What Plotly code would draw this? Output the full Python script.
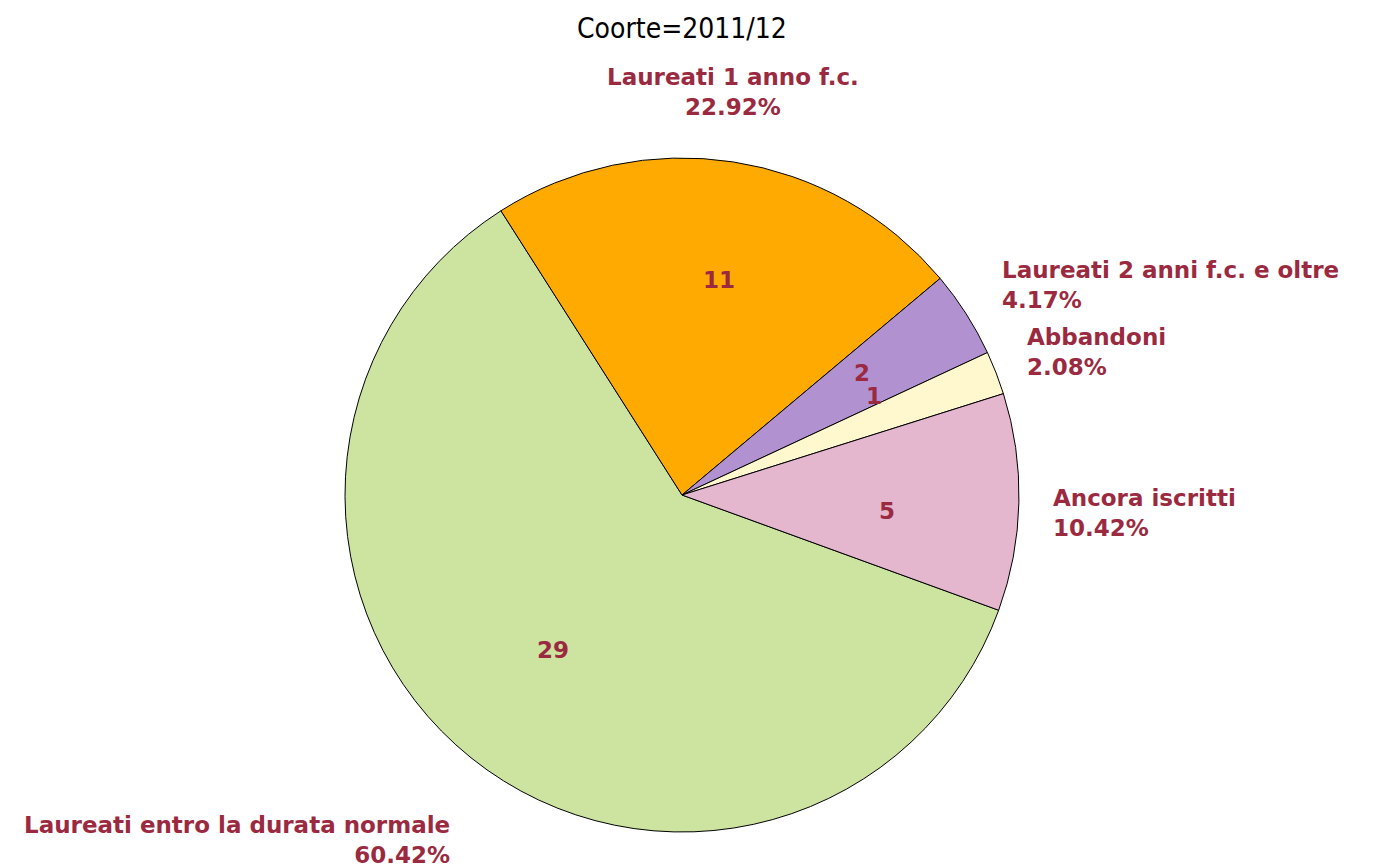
import numpy as np
import plotly.graph_objects as go

# ---- data ----
categories = ["Laureati entro la durata normale", "Laureati 1 anno f.c.",
              "Laureati 2 anni f.c. e oltre", "Abbandoni", "Ancora iscritti"]
counts = [29, 11, 2, 1, 5]
title_text = "Coorte=2011/12"

# ---- style ----
colors = ["#CDE4A1", "#FFAA00", "#B291D0", "#FFF8CE", "#E5B7CF"]
label_color = "#9B2A41"
start_rotation = 110  # degrees clockwise from 12 o'clock for first slice
inner_r = [0.60, 0.64, 0.64, 0.64, 0.61]
inner_shift = [(-2, 3), (4, 2), (-2, 6), (-9, 21), (-1, -12)]  # (x, y) px
outer_r = [1.18, 1.12, 1.14, 1.11, 1.10]
outer_shift = [(19, -5), (-6, 0), (-6, 4), (-6, 7), (-2, -10)]  # (x, y) px

W, H = 1374, 868
ml, mr, mt, mb = 337, 363, 150, 44

fig = go.Figure(go.Pie(
    labels=categories, values=counts, sort=False, direction="clockwise",
    rotation=start_rotation, textinfo="none", hoverinfo="label+value+percent",
    marker=dict(colors=colors, line=dict(color="black", width=1)),
    showlegend=False,
))

vals = np.array(counts, dtype=float)
fr = vals / vals.sum()
ends = start_rotation + 360 * np.cumsum(fr)
starts = ends - 360 * fr
mids = np.deg2rad((starts + ends) / 2)

annos = []
font = dict(family="Verdana, DejaVu Sans, sans-serif", size=23, color=label_color, weight="bold")
for i, (lab, c, f, th) in enumerate(zip(categories, counts, fr, mids)):
    s, co = np.sin(th), np.cos(th)
    # inside value
    annos.append(dict(x=0.5 + 0.5 * inner_r[i] * s, y=0.5 + 0.5 * inner_r[i] * co,
                      xref="paper", yref="paper", text=str(c), showarrow=False,
                      font=font, xanchor="center", yanchor="middle",
                      xshift=inner_shift[i][0], yshift=inner_shift[i][1]))
    # outside label
    if s > 0.3:
        xa, al = "left", "left"
    elif s < -0.3:
        xa, al = "right", "right"
    else:
        xa, al = "center", "center"
    if co > 0.6:
        ya = "bottom"
    elif co < -0.6:
        ya = "top"
    else:
        ya = "middle"
    annos.append(dict(x=0.5 + 0.5 * outer_r[i] * s, y=0.5 + 0.5 * outer_r[i] * co,
                      xref="paper", yref="paper",
                      text=f"{lab}<br>{f*100:.2f}%", showarrow=False, align=al,
                      font=font, xanchor=xa, yanchor=ya,
                      xshift=outer_shift[i][0], yshift=outer_shift[i][1]))

annos.append(dict(x=0.5, y=(H - 29 - mb) / (H - mt - mb), xref="paper", yref="paper",
                  text=title_text, showarrow=False, xanchor="center", yanchor="middle",
                  yshift=8,
                  font=dict(family="DejaVu Sans Condensed, Liberation Sans Narrow, sans-serif",
                            size=28, color="black")))

fig.update_layout(
    width=W, height=H, autosize=False,
    margin=dict(l=ml, r=mr, t=mt, b=mb),
    paper_bgcolor="white", plot_bgcolor="white",
    annotations=annos,
)
fig.write_html("out.html")
